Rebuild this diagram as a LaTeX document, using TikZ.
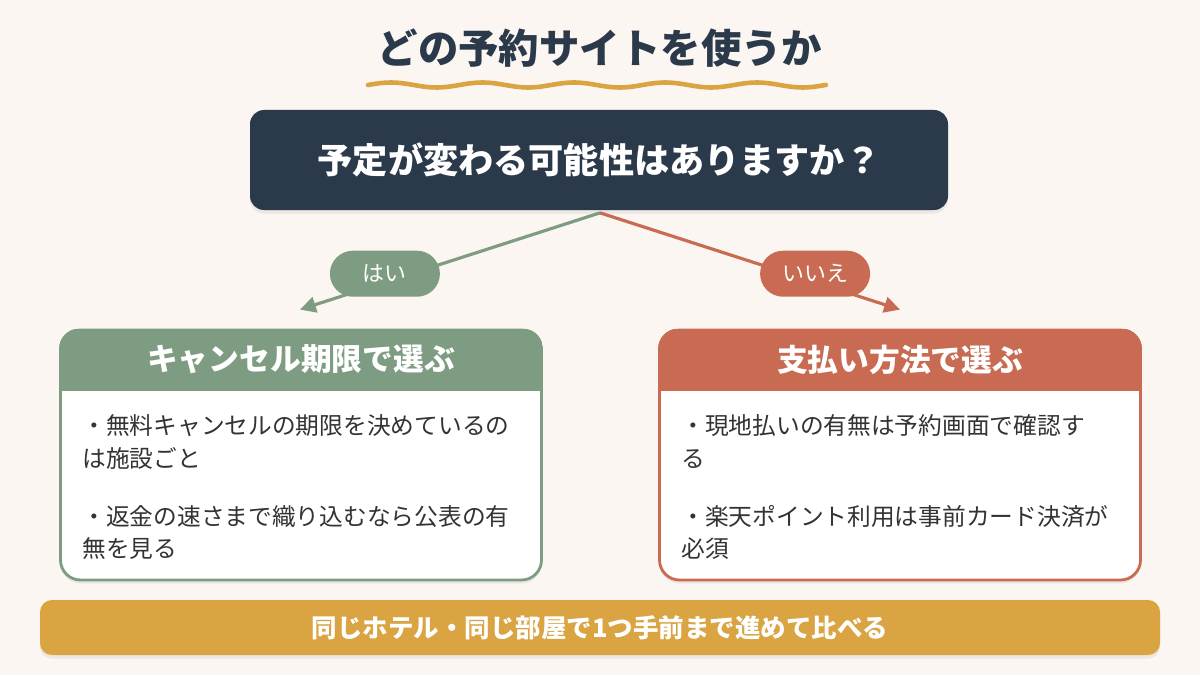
\documentclass[tikz,border=0pt]{standalone}
\usepackage{fontspec}
\setmainfont{Noto Sans CJK JP}
\usepackage{xcolor}
\usetikzlibrary{positioning,calc,arrows.meta,shadows}

\definecolor{pagebg}{HTML}{FBF6F1}
\definecolor{inkblue}{HTML}{2B3A4B}
\definecolor{sage}{HTML}{7D9C82}
\definecolor{terra}{HTML}{C96B52}
\definecolor{mustard}{HTML}{D9A441}
\definecolor{bodyink}{HTML}{333333}

\begin{document}
\begin{tikzpicture}[
  pill/.style={rounded corners=0.46cm, minimum width=2.2cm, minimum height=0.92cm,
    inner sep=0pt, text=white, font=\fontsize{12.5}{14}\selectfont},
  panel/.style={draw, line width=1.6pt, fill=white, rounded corners=0.4cm,
    minimum width=9.62cm, minimum height=5cm, inner sep=0pt,
    drop shadow={opacity=0.12, shadow xshift=0pt, shadow yshift=-2pt}},
  headtext/.style={text=white, font=\fontsize{17.5}{20}\selectfont\bfseries},
  bodytext/.style={text=bodyink, align=left, anchor=north west, inner sep=0pt,
    font=\fontsize{13.5}{18.4}\selectfont},
  branch/.style={line width=1.8pt, -{Triangle[length=9pt,width=9pt]}}
]
  \fill[pagebg] (0,0) rectangle (24,13.5);

  % --- title with wavy underline
  \node[text=inkblue, font=\fontsize{23}{27}\selectfont\bfseries] (title) at (12,12.54) {どの予約サイトを使うか};
  \draw[mustard, line width=2.6pt, line cap=round]
    plot[domain=7.36:16.52, samples=120] (\x,{11.8+0.05*sin(196.7*(\x-7.36))});

  % --- question
  \node[fill=inkblue, rounded corners=0.28cm, minimum width=13.96cm, minimum height=2cm,
    text=white, font=\fontsize{20}{24}\selectfont\bfseries,
    drop shadow={opacity=0.12, shadow xshift=0pt, shadow yshift=-2pt}]
    (question) at (11.98,10.3) {予定が変わる可能性はありますか？};

  % --- left: cancel deadline
  \node[panel, draw=sage] (cancelbox) at (6.02,4.4) {};
  \begin{scope}
    \clip[rounded corners=0.4cm] (cancelbox.south west) rectangle (cancelbox.north east);
    \fill[sage] (cancelbox.north west) rectangle ($(cancelbox.north east)+(0,-1.24)$);
  \end{scope}
  \node[headtext] (cancelhead) at ($(cancelbox.north)+(0,-0.62)$) {キャンセル期限で選ぶ};
  \node[bodytext] (cancelpts) at ($(cancelbox.north west)+(0.46,-1.72)$)
    {・無料キャンセルの期限を決めているの\\は施設ごと\\[0.52cm]
     ・返金の速さまで織り込むなら公表の有\\無を見る};

  % --- right: payment method
  \node[panel, draw=terra] (paybox) at (18,4.4) {};
  \begin{scope}
    \clip[rounded corners=0.4cm] (paybox.south west) rectangle (paybox.north east);
    \fill[terra] (paybox.north west) rectangle ($(paybox.north east)+(0,-1.24)$);
  \end{scope}
  \node[headtext] (payhead) at ($(paybox.north)+(0,-0.62)$) {支払い方法で選ぶ};
  \node[bodytext] (paypts) at ($(paybox.north west)+(0.46,-1.72)$)
    {・現地払いの有無は予約画面で確認す\\る\\[0.52cm]
     ・楽天ポイント利用は事前カード決済が\\必須};

  % --- branches
  \coordinate (fork) at ($(question.south)+(0.02,-0.05)$);
  \draw[branch, sage] (fork) -- node[pill, fill=sage, pos=0.717, yshift=0.17cm] (yes) {はい}
    ($(cancelbox.north)+(-0.02,0.38)$);
  \draw[branch, terra] (fork) -- node[pill, fill=terra, pos=0.717, yshift=0.17cm] (no) {いいえ}
    ($(paybox.north)+(0,0.38)$);

  % --- bottom tip
  \node[fill=mustard, rounded corners=0.24cm, minimum width=22.4cm, minimum height=1.1cm,
    text=white, font=\fontsize{14.5}{17}\selectfont\bfseries,
    drop shadow={opacity=0.12, shadow xshift=0pt, shadow yshift=-2pt}]
    (tipbar) at (12,0.95) {同じホテル・同じ部屋で1つ手前まで進めて比べる};
\end{tikzpicture}
\end{document}
